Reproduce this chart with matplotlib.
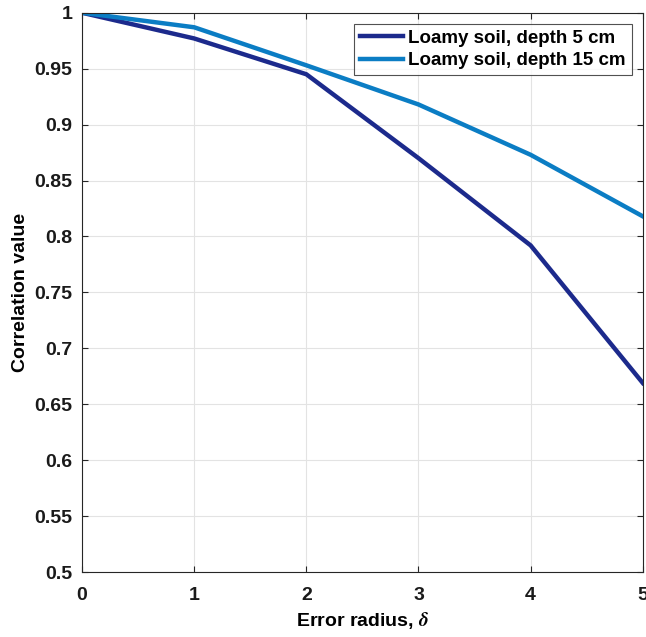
import numpy as np
import matplotlib
matplotlib.use("Agg")
import matplotlib.pyplot as plt

plt.rcParams['font.family'] = ['Liberation Sans', 'DejaVu Sans']
plt.rcParams['font.weight'] = 'bold'
plt.rcParams['axes.labelweight'] = 'bold'
plt.rcParams['mathtext.fontset'] = 'stix'

# correlation vs error radius
radius = [0, 1, 2, 3, 4, 5]
corr_5cm = [1.0, 0.977, 0.945, 0.870, 0.792, 0.669]
corr_15cm = [1.0, 0.987, 0.953, 0.918, 0.873, 0.818]
labels = ['Loamy soil, depth 5 cm', 'Loamy soil, depth 15 cm']

fig = plt.figure(figsize=(6.46, 6.37), dpi=100)
ax = fig.add_axes([0.127, 0.102, 0.868, 0.878])

ax.plot(radius, corr_5cm, color='#1c2a8c', lw=3.2, label=labels[0])
ax.plot(radius, corr_15cm, color='#0b7dc4', lw=3.2, label=labels[1])

ax.set_xlim(0, 5)
ax.set_ylim(0.5, 1)
ax.set_xticks(np.arange(0, 6, 1))
ax.set_yticks(np.arange(0.5, 1.01, 0.05))
ax.set_yticklabels(['0.5', '0.55', '0.6', '0.65', '0.7', '0.75', '0.8',
                    '0.85', '0.9', '0.95', '1'])
ax.grid(True, color='#e3e3e3', lw=0.8)
ax.tick_params(direction='in', top=True, right=True, length=4, width=0.8,
               labelsize=14, colors='#262626', labelcolor='#1a1a1a', pad=7)
ax.tick_params(axis='x', pad=11)
for s in ax.spines.values():
    s.set_color('#262626')
    s.set_linewidth(0.8)

ax.set_xlabel(r'Error radius, $\delta$', fontsize=14, labelpad=4)
ax.set_ylabel('Correlation value', fontsize=14, labelpad=4)

leg = ax.legend(loc='upper right', fontsize=13.5, frameon=True, fancybox=False,
                edgecolor='#262626', handlelength=2.3, borderpad=0.3,
                labelspacing=0.3, handletextpad=0.3, borderaxespad=0.6)
leg.get_frame().set_linewidth(0.8)

fig.savefig('out.png', dpi=100)
